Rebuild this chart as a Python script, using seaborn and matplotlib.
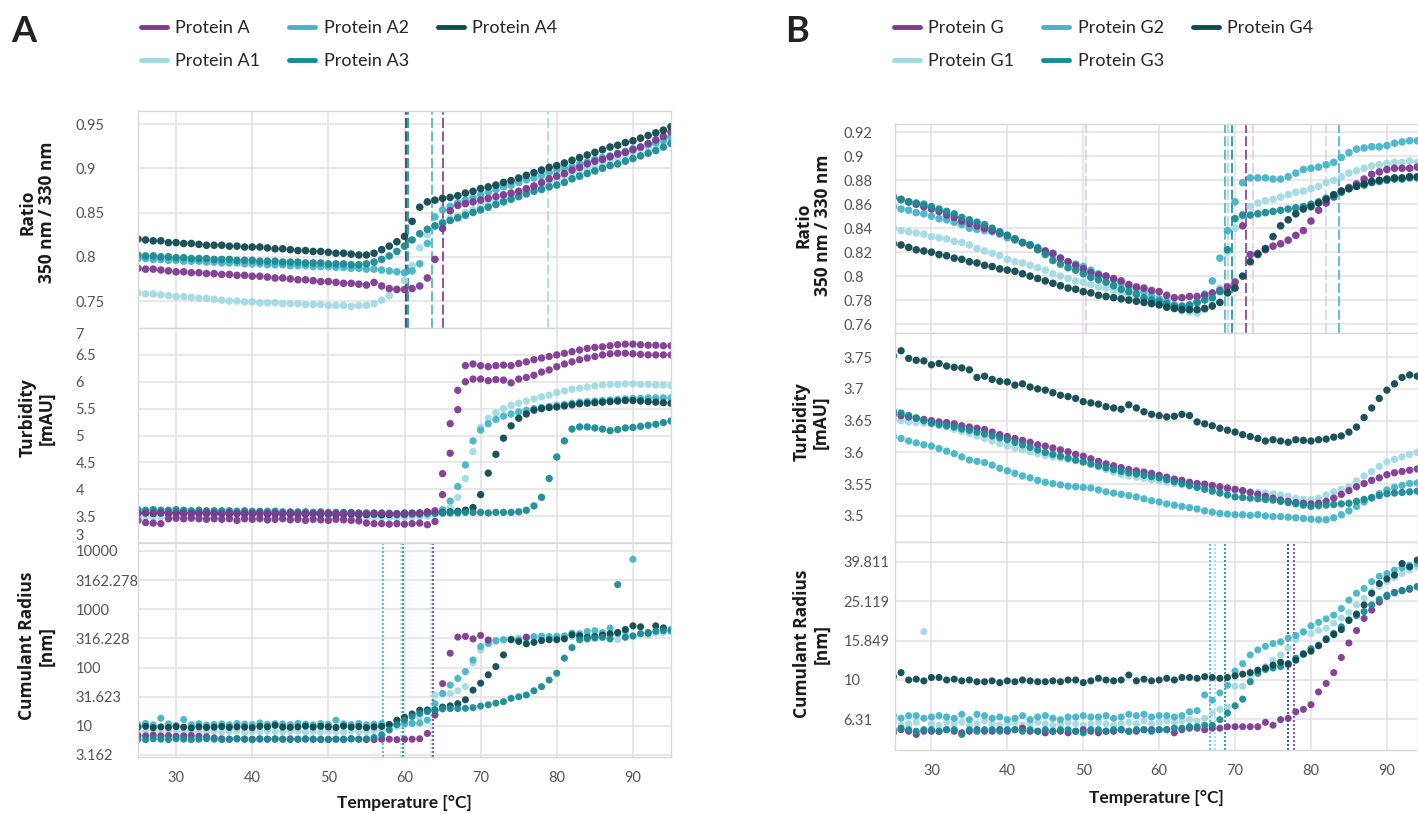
import matplotlib

matplotlib.use("Agg")

import matplotlib.pyplot as plt
import numpy as np
import pandas as pd
import seaborn as sns
from matplotlib.lines import Line2D
from matplotlib.ticker import NullLocator

NAN = np.nan

TEMPS = [25, 26, 27, 28, 29, 30, 31, 32, 33, 34,
         35, 36, 37, 38, 39, 40, 41, 42, 43, 44,
         45, 46, 47, 48, 49, 50, 51, 52, 53, 54,
         55, 56, 57, 58, 59, 60, 61, 62, 63, 64,
         65, 66, 67, 68, 69, 70, 71, 72, 73, 74,
         75, 76, 77, 78, 79, 80, 81, 82, 83, 84,
         85, 86, 87, 88, 89, 90, 91, 92, 93, 94,
         95]
X_TICKS = [30, 40, 50, 60, 70, 80, 90]

NAMES_A = ["Protein A", "Protein A1", "Protein A2", "Protein A3", "Protein A4"]
NAMES_G = ["Protein G", "Protein G1", "Protein G2", "Protein G3", "Protein G4"]
COLORS = ["#7e3a8f", "#a2dae1", "#45b4c6", "#1b8a94", "#10494f"]

# ---- panel A: ratio 350/330
RATIO_A = [.787, .786, .786, .785, .784, .783, .783, .782, .782, .781,
           .781, .780, .780, .779, .779, .778, .778, .777, .776, .776,
           .775, .774, .774, .773, .772, .772, .771, .770, .770, .769,
           .768, .771, .767, .764, .763, .763, .764, .767, .776, .797,
           .832, .852, .858, .860, .862, .864, .866, .868, .870, .872,
           .874, .877, .880, .884, .888, .891, .894, .898, .901, .905,
           .908, .910, .913, .916, .918, .921, .924, .928, .932, .936,
           .941]
RATIO_A1 = [.759, .758, .758, .757, .756, .755, .755, .754, .753, .753,
            .752, .751, .750, .750, .749, .749, .748, .748, .748, .747,
            .747, .747, .746, .746, .746, .745, .745, .745, .744, .745,
            .745, .747, .751, .756, .763, .773, .790, .810, .825, .834,
            .839, .843, .846, .850, .853, .857, .860, .863, .866, .869,
            .872, .875, .878, .881, .885, .888, .891, .894, .897, .900,
            .903, .906, .909, .912, .915, .918, .921, .924, .927, .931,
            .935]
RATIO_A2 = [.798, .798, .797, .797, .796, .796, .795, .795, .795, .794,
            .794, .793, .793, .793, .792, .792, .792, .791, .791, .791,
            .790, .790, .790, .789, .789, .789, .788, .788, .787, .787,
            .786, .786, .785, .784, .783, .782, .784, .792, .815, .845,
            .853, .857, .861, .864, .867, .870, .873, .876, .879, .881,
            .884, .887, .889, .892, .895, .898, .900, .902, .905, .907,
            .910, .912, .914, .917, .919, .922, .924, .927, .929, .932,
            .935]
RATIO_A3 = [.802, .801, .801, .800, .800, .799, .799, .798, .798, .798,
            .797, .797, .797, .796, .796, .796, .795, .795, .795, .794,
            .794, .794, .793, .793, .793, .792, .792, .792, .791, .791,
            .792, .794, .797, .801, .806, .812, .819, .826, .831, .835,
            .838, .841, .844, .847, .850, .853, .856, .859, .862, .865,
            .868, .871, .874, .876, .879, .881, .884, .888, .891, .894,
            .897, .900, .903, .905, .908, .911, .914, .917, .920, .924,
            .928]
RATIO_A4 = [.820, .819, .818, .818, .816, .816, .815, .815, .814, .813,
            .813, .813, .812, .812, .811, .811, .811, .810, .809, .809,
            .808, .807, .807, .806, .806, .805, .804, .804, .803, .802,
            .802, .804, .808, .812, .817, .823, .840, .856, .862, .864,
            .866, .867, .869, .872, .874, .877, .879, .881, .884, .886,
            .889, .892, .895, .898, .901, .903, .906, .909, .912, .915,
            .918, .921, .924, .926, .929, .931, .934, .937, .940, .943,
            .947]

# ---- panel A: turbidity (Protein A shows two replicates)
TURB_A = [3.55, 3.56, 3.55, 3.56, 3.55, 3.55, 3.56, 3.55, 3.55, 3.56,
          3.55, 3.55, 3.56, 3.55, 3.55, 3.55, 3.56, 3.55, 3.55, 3.55,
          3.56, 3.55, 3.55, 3.55, 3.56, 3.55, 3.55, 3.55, 3.56, 3.55,
          3.55, 3.55, 3.55, 3.55, 3.54, 3.55, 3.55, 3.56, 3.58, 3.60,
          4.29, 5.22, 5.84, 6.30, 6.33, 6.30, 6.28, 6.30, 6.31, 6.30,
          6.34, 6.37, 6.41, 6.44, 6.47, 6.50, 6.53, 6.56, 6.59, 6.62,
          6.64, 6.65, 6.67, 6.69, 6.70, 6.70, 6.69, 6.68, 6.68, 6.67,
          6.67]
TURB_A_REP = [3.42, 3.38, 3.37, 3.36, 3.45, 3.46, 3.45, 3.46, 3.45, 3.44,
              3.45, 3.44, 3.45, 3.42, 3.45, 3.44, 3.45, 3.43, 3.44, 3.45,
              3.43, 3.44, 3.42, 3.44, 3.43, 3.42, 3.44, 3.43, 3.42, 3.41,
              3.37, 3.36, 3.36, 3.35, 3.36, 3.35, 3.36, 3.37, 3.34, 3.40,
              3.90, 4.67, 5.48, 6.00, 6.05, 6.05, 6.02, 6.04, 6.03, 5.98,
              6.05, 6.08, 6.12, 6.18, 6.22, 6.28, 6.33, 6.37, 6.41, 6.44,
              6.47, 6.50, 6.52, 6.53, 6.53, 6.52, 6.51, 6.50, 6.50, 6.50,
              6.50]
TURB_A1 = [3.48, 3.49, 3.48, 3.48, 3.49, 3.48, 3.48, 3.49, 3.48, 3.48,
           3.48, 3.49, 3.48, 3.48, 3.48, 3.49, 3.48, 3.48, 3.48, 3.49,
           3.48, 3.48, 3.49, 3.48, 3.48, 3.48, 3.49, 3.48, 3.48, 3.48,
           3.47, 3.48, 3.47, 3.48, 3.47, 3.48, 3.48, 3.49, 3.50, 3.52,
           3.55, 3.65, 3.85, 4.20, 4.70, 5.15, 5.32, 5.42, 5.50, 5.56,
           5.60, 5.64, 5.68, 5.72, 5.75, 5.80, 5.83, 5.86, 5.88, 5.90,
           5.92, 5.94, 5.95, 5.95, 5.96, 5.96, 5.95, 5.95, 5.94, 5.94,
           5.93]
TURB_A2 = [3.58, 3.57, 3.58, 3.57, 3.58, 3.57, 3.57, 3.58, 3.57, 3.57,
           3.56, 3.57, 3.56, 3.56, 3.57, 3.56, 3.56, 3.55, 3.56, 3.55,
           3.55, 3.55, 3.54, 3.55, 3.54, 3.54, 3.54, 3.53, 3.54, 3.53,
           3.53, 3.53, 3.52, 3.53, 3.52, 3.52, 3.53, 3.53, 3.54, 3.56,
           3.62, 3.78, 4.05, 4.45, 4.90, 5.10, 5.22, 5.30, 5.36, 5.40,
           5.44, 5.47, 5.50, 5.52, 5.54, 5.56, 5.58, 5.60, 5.62, 5.63,
           5.64, 5.65, 5.66, 5.67, 5.68, 5.69, 5.69, 5.70, 5.70, 5.70,
           5.70]
TURB_A3 = [3.62, 3.61, 3.62, 3.61, 3.61, 3.62, 3.61, 3.60, 3.61, 3.60,
           3.60, 3.60, 3.60, 3.59, 3.60, 3.59, 3.59, 3.59, 3.59, 3.58,
           3.58, 3.58, 3.58, 3.57, 3.58, 3.57, 3.57, 3.57, 3.57, 3.56,
           3.56, 3.56, 3.56, 3.55, 3.55, 3.56, 3.56, 3.56, 3.56, 3.56,
           3.56, 3.56, 3.56, 3.57, 3.57, 3.57, 3.56, 3.57, 3.57, 3.57,
           3.58, 3.61, 3.69, 3.85, 4.20, 4.60, 4.90, 5.12, 5.16, 5.16,
           5.14, 5.12, 5.09, 5.11, 5.14, 5.15, 5.17, 5.19, 5.21, 5.24,
           5.27]
TURB_A4 = [3.56, 3.56, 3.55, 3.56, 3.55, 3.56, 3.55, 3.55, 3.56, 3.55,
           3.55, 3.55, 3.54, 3.55, 3.55, 3.54, 3.55, 3.54, 3.54, 3.55,
           3.54, 3.54, 3.54, 3.55, 3.54, 3.54, 3.53, 3.54, 3.54, 3.53,
           3.53, 3.54, 3.53, 3.53, 3.54, 3.54, 3.55, 3.55, 3.56, 3.56,
           3.57, 3.58, 3.59, 3.61, 3.66, 3.90, 4.30, 4.65, 4.95, 5.18,
           5.32, 5.40, 5.47, 5.50, 5.52, 5.53, 5.55, 5.57, 5.59, 5.60,
           5.61, 5.62, 5.63, 5.64, 5.65, 5.65, 5.64, 5.63, 5.62, 5.61,
           5.60]

# ---- panel A: cumulant radius [nm]
RAD_A = [6.8, 6.7, 6.9, 6.7, 6.8, 6.6, 6.7, 6.8, 6.6, 6.5,
         6.2, 6.0, 5.9, 6.0, 5.9, 5.9, 6.0, 5.9, 5.9, 5.9,
         6.0, 5.9, 5.9, 5.9, 5.9, 5.8, 5.9, 5.9, 6.0, 5.9,
         5.8, 5.8, 5.9, 5.9, 5.8, 5.9, 5.9, 6.0, 7.4, 15.3,
         53, 176, 333, 342, 310, 356, 298, NAN, NAN, NAN,
         NAN, 333, NAN, NAN, NAN, NAN, NAN, NAN, NAN, NAN,
         NAN, NAN, NAN, NAN, NAN, NAN, NAN, NAN, NAN, NAN,
         NAN]
RAD_A1 = [8.0, 7.8, 8.2, 7.9, 8.1, 8.0, 7.7, 8.1, 7.9, 8.0,
          8.1, 7.9, 8.0, 8.2, 7.8, 8.0, 7.9, 8.1, 8.0, 7.9,
          8.0, 8.1, 7.9, 8.0, 7.8, 8.1, 8.0, 7.9, 8.2, 7.9,
          8.0, 8.3, 8.6, 9.2, 9.8, 10.5, 11.2, 14, 19, 33.7,
          35, 36, 40, 47, 120, 200, 260, 280, 300, 310,
          320, 330, 330, 340, 330, 350, 330, 340, 350, 340,
          350, 330, 360, 300, 350, 340, 380, 360, 390, 400,
          420]
RAD_A2 = [10.5, 11.0, 10.4, 13.5, 10.8, 10.2, 12.8, 10.5, 10.9, 10.3,
          10.6, 10.8, 10.4, 11.0, 10.7, 10.5, 11.2, 10.6, 10.9, 10.8,
          10.5, 11.0, 10.7, 10.4, 10.9, 10.6, 12.5, 10.8, 10.5, 11.0,
          10.4, 10.7, 10.9, 10.6, 10.8, 10.9, 11.0, 11.2, 12.5, 24,
          36, 50, 65, 85, 135, 230, 260, 290, 300, 305,
          300, 320, 340, 345, 340, 340, 350, 390, 380, 415,
          430, 400, 475, 380, 420, 7200, NAN, NAN, NAN, NAN,
          420]
RAD_A3 = [5.9, 5.8, 6.0, 5.9, 5.8, 6.0, 5.9, 5.8, 5.9, 6.0,
          5.9, 5.8, 5.9, 6.0, 5.9, 5.8, 5.9, 5.9, 6.0, 5.9,
          5.8, 5.9, 6.0, 5.9, 5.8, 5.9, 5.9, 5.8, 6.0, 5.9,
          6.0, 6.3, 7.0, 8.5, 10.5, 12.5, 14.5, 16.3, 17.5, 18.6,
          19.5, 19.8, 19.8, 20, 20.5, 21.8, 23, 24.5, 26, 29.6,
          31.5, 33.8, 40, 47, 61, 80, 145, 220, 300, 310,
          320, 330, 310, 2650, 330, 350, 380, 400, 420, 430,
          445]
RAD_A4 = [9.5, 9.8, 9.3, 9.6, 9.4, 9.7, 9.5, 9.2, 9.6, 9.4,
          9.5, 9.7, 9.4, 9.6, 9.5, 9.3, 9.8, 9.6, 10.2, 9.5,
          9.4, 9.6, 9.9, 9.5, 9.8, 9.6, 9.4, 9.9, 9.5, 9.7,
          9.3, 9.6, 9.8, 10.5, 12.5, 14, 16, 18.6, 18.6, 18.6,
          21, 22, 24, 28, 41, 54, 75, 104, 165, 300,
          280, 255, 270, 290, 300, 300, 310, 365, 350, 330,
          340, 360, 380, 400, 450, 520, 500, 390, 520, 480,
          NAN]

# ---- panel B: ratio 350/330
RATIO_G = [.866, .864, .862, .860, .858, .856, .854, .851, .849, .846,
           .844, .842, .840, .838, .836, .834, .831, .828, .826, .823,
           .821, .819, .815, .812, .809, .806, .803, .801, .800, .798,
           .796, .793, .791, .790, .788, .787, .784, .782, .782, .783,
           .783, .784, .786, .788, .791, .795, .842, .818, .819, .822,
           .825, .827, .830, .834, .838, .846, .855, .861, .866, .871,
           .874, .877, .881, .885, .887, .889, .890, .890, .890, .891,
           .891]
RATIO_G1 = [.840, .838, .837, .836, .835, .833, .832, .831, .829, .828,
            .826, .823, .821, .819, .817, .814, .812, .811, .809, .807,
            .805, .802, .800, .798, .796, .795, .793, .791, .790, .788,
            .786, .784, .782, .780, .778, .776, .775, .773, .771, .770,
            .769, .772, .779, .790, .820, .840, .850, .858, .861, .863,
            .864, .866, .868, .870, .871, .873, .875, .878, .880, .883,
            .886, .888, .890, .892, .893, .894, .895, .895, .896, .895,
            .895]
RATIO_G2 = [.858, .856, .855, .853, .852, .850, .848, .847, .845, .843,
            .840, .839, .838, .837, .835, .832, .830, .828, .826, .824,
            .821, .818, .815, .812, .810, .808, .805, .802, .800, .797,
            .794, .791, .789, .787, .784, .781, .779, .776, .774, .775,
            .778, .785, .796, .815, .838, .862, .878, .882, .882, .882,
            .881, .881, .883, .886, .889, .890, .891, .893, .895, .899,
            .903, .906, .907, .908, .908, .909, .911, .912, .913, .913,
            .914]
RATIO_G3 = [.866, .864, .862, .861, .860, .858, .856, .854, .852, .849,
            .847, .845, .843, .840, .837, .834, .831, .828, .826, .822,
            .818, .813, .810, .807, .805, .802, .799, .797, .795, .792,
            .789, .787, .785, .782, .780, .779, .777, .775, .775, .776,
            .778, .780, .782, .787, .822, .848, .851, .851, .852, .853,
            .854, .855, .856, .857, .858, .860, .862, .865, .867, .870,
            .873, .875, .876, .878, .879, .880, .881, .881, .882, .882,
            .883]
RATIO_G4 = [.827, .826, .824, .822, .821, .820, .818, .817, .815, .814,
            .812, .811, .809, .808, .806, .805, .804, .802, .800, .798,
            .796, .794, .792, .790, .789, .787, .786, .784, .783, .782,
            .781, .780, .779, .778, .777, .776, .774, .773, .772, .772,
            .772, .773, .775, .778, .786, .790, .800, .812, .818, .823,
            .833, .842, .847, .852, .856, .858, .861, .864, .868, .871,
            .873, .875, .877, .879, .880, .881, .882, .882, .883, .883,
            .884]

# ---- panel B: turbidity
TURB_G = [3.660, 3.658, 3.656, 3.654, 3.652, 3.650, 3.648, 3.647, 3.645, 3.642,
          3.640, 3.638, 3.636, 3.632, 3.628, 3.625, 3.622, 3.619, 3.616, 3.612,
          3.610, 3.607, 3.604, 3.601, 3.597, 3.594, 3.590, 3.586, 3.582, 3.579,
          3.576, 3.573, 3.571, 3.569, 3.567, 3.564, 3.561, 3.558, 3.556, 3.553,
          3.551, 3.550, 3.548, 3.546, 3.544, 3.542, 3.540, 3.537, 3.534, 3.531,
          3.528, 3.525, 3.523, 3.521, 3.520, 3.519, 3.520, 3.523, 3.528, 3.534,
          3.540, 3.546, 3.551, 3.556, 3.560, 3.565, 3.568, 3.570, 3.572, 3.574,
          3.575]
TURB_G1 = [3.652, 3.650, 3.648, 3.647, 3.646, 3.645, 3.642, 3.640, 3.636, 3.633,
           3.630, 3.626, 3.622, 3.618, 3.614, 3.610, 3.607, 3.604, 3.601, 3.598,
           3.595, 3.593, 3.591, 3.589, 3.587, 3.585, 3.581, 3.577, 3.573, 3.569,
           3.565, 3.563, 3.561, 3.559, 3.557, 3.555, 3.553, 3.551, 3.549, 3.547,
           3.545, 3.546, 3.543, 3.542, 3.541, 3.540, 3.539, 3.538, 3.537, 3.536,
           3.535, 3.533, 3.531, 3.528, 3.526, 3.525, 3.528, 3.533, 3.538, 3.542,
           3.546, 3.555, 3.563, 3.570, 3.578, 3.585, 3.589, 3.593, 3.597, 3.600,
           3.602]
TURB_G2 = [3.625, 3.622, 3.618, 3.615, 3.612, 3.610, 3.606, 3.602, 3.598, 3.593,
           3.588, 3.586, 3.584, 3.580, 3.575, 3.571, 3.567, 3.563, 3.560, 3.556,
           3.553, 3.551, 3.549, 3.547, 3.546, 3.545, 3.544, 3.541, 3.538, 3.536,
           3.534, 3.532, 3.530, 3.527, 3.524, 3.522, 3.519, 3.517, 3.515, 3.513,
           3.511, 3.508, 3.506, 3.504, 3.503, 3.502, 3.502, 3.501, 3.502, 3.500,
           3.499, 3.499, 3.498, 3.497, 3.496, 3.495, 3.494, 3.494, 3.497, 3.502,
           3.508, 3.515, 3.522, 3.528, 3.535, 3.541, 3.545, 3.548, 3.551, 3.552,
           3.553]
TURB_G3 = [3.665, 3.662, 3.658, 3.654, 3.650, 3.646, 3.644, 3.642, 3.640, 3.637,
           3.635, 3.632, 3.629, 3.626, 3.623, 3.620, 3.616, 3.612, 3.608, 3.604,
           3.600, 3.597, 3.594, 3.591, 3.588, 3.585, 3.582, 3.579, 3.576, 3.573,
           3.570, 3.568, 3.566, 3.564, 3.562, 3.560, 3.557, 3.554, 3.551, 3.548,
           3.545, 3.542, 3.539, 3.536, 3.533, 3.530, 3.529, 3.528, 3.527, 3.526,
           3.525, 3.523, 3.521, 3.519, 3.517, 3.515, 3.516, 3.517, 3.518, 3.519,
           3.520, 3.523, 3.526, 3.529, 3.532, 3.535, 3.536, 3.537, 3.538, 3.539,
           3.540]
TURB_G4 = [3.752, 3.760, 3.748, 3.745, 3.744, 3.738, 3.740, 3.736, 3.734, 3.733,
           3.730, 3.718, 3.720, 3.715, 3.712, 3.711, 3.706, 3.708, 3.703, 3.700,
           3.698, 3.694, 3.690, 3.688, 3.685, 3.680, 3.678, 3.676, 3.672, 3.670,
           3.668, 3.675, 3.670, 3.664, 3.660, 3.658, 3.656, 3.657, 3.660, 3.658,
           3.648, 3.645, 3.642, 3.638, 3.635, 3.632, 3.628, 3.625, 3.622, 3.618,
           3.620, 3.618, 3.616, 3.620, 3.619, 3.618, 3.620, 3.621, 3.624, 3.626,
           3.632, 3.640, 3.655, 3.670, 3.685, 3.698, 3.708, 3.718, 3.722, 3.720,
           3.718]

# ---- panel B: cumulant radius [nm]
RAD_G = [5.4, 5.6, 5.5, 5.3, 5.5, 5.5, 5.5, 5.6, 5.5, 5.4,
         5.5, 5.6, 5.5, 5.5, 5.6, 5.5, 5.6, 5.7, 5.5, 5.5,
         5.4, 5.5, 5.5, 5.4, 5.5, 5.6, 5.5, 5.4, 5.5, 5.5,
         5.6, 5.5, 5.5, 5.6, 5.6, 5.6, 5.6, 5.4, 5.6, 5.7,
         5.7, 5.6, 5.7, 5.7, 5.8, 5.8, 5.8, 5.8, 5.8, 6.1,
         5.9, 6.3, 6.4, 6.9, 7.1, 7.5, 8.7, 9.6, 10.9, 13.0,
         15.4, 17.8, 20.5, 22.6, 24.8, 26.5, 27.8, 28.3, 28.8, 29.7,
         30.0]
RAD_G1 = [6.1, 5.9, 6.0, 6.1, 17.6, 6.0, 5.9, 6.1, 6.0, 6.1,
          5.9, 6.0, 6.2, 6.0, 5.9, 6.0, 6.1, 5.9, 6.0, 6.1,
          6.0, 5.9, 6.0, 6.1, 6.0, 5.9, 6.0, 6.1, 6.0, 5.9,
          6.0, 6.1, 6.0, 6.2, 6.0, 6.1, 6.2, 6.1, 6.2, 6.3,
          6.2, 6.4, 6.8, 7.1, 7.3, 9.3, 9.3, 10.5, 11.2, 11.7,
          12.6, 13.4, 14.5, 16.0, 17.6, 17.2, 17.8, 18.3, 19.4, 20.6,
          22.0, 24.0, 25.9, 28.0, 29.8, 31.5, 33.0, 34.6, 36.0, 37.4,
          38.0]
RAD_G2 = [6.6, 6.4, 6.6, 6.6, 6.4, 6.5, 6.6, 6.5, 6.4, 6.7,
          6.3, 6.7, 6.6, 6.4, 6.5, 6.3, 6.4, 6.6, 6.3, 6.5,
          6.6, 6.4, 6.3, 6.5, 6.5, 6.6, 6.5, 6.5, 6.6, 6.4,
          6.5, 6.7, 6.6, 6.7, 6.5, 6.6, 6.6, 6.5, 6.6, 6.9,
          7.0, 8.4, 7.9, 8.6, 9.4, 11.1, 12.1, 13.4, 14.2, 14.8,
          15.3, 15.6, 16.3, 16.8, 17.5, 18.8, 19.6, 20.4, 21.3, 23.0,
          25.4, 27.5, 29.1, 31.5, 33.5, 34.6, 36.0, 37.0, 38.0, 38.9,
          39.5]
RAD_G3 = [5.6, 5.7, 5.6, 5.5, 5.6, 5.6, 5.5, 5.6, 5.6, 5.3,
          5.6, 5.5, 5.6, 5.6, 5.5, 5.6, 5.6, 5.5, 5.6, 5.5,
          5.6, 5.5, 5.6, 5.6, 5.5, 5.4, 5.6, 5.6, 5.5, 5.6,
          5.6, 5.5, 5.6, 5.6, 5.5, 5.6, 5.6, 5.7, 5.7, 5.8,
          5.8, 5.9, 5.9, 6.3, 6.8, 7.4, 8.0, 9.8, 10.8, 11.3,
          11.5, 11.7, 12.1, 12.9, 13.6, 14.4, 15.0, 16.2, 17.2, 18.6,
          20.2, 21.2, 22.2, 24.0, 25.6, 26.9, 27.6, 28.4, 29.1, 29.7,
          30.0]
RAD_G4 = [10.4, 10.9, 10.0, 10.1, 9.9, 10.3, 10.3, 10.0, 10.1, 9.9,
          10.0, 9.8, 9.8, 9.9, 9.7, 9.9, 9.8, 10.0, 9.9, 9.8,
          9.8, 9.9, 9.8, 10.0, 10.0, 9.7, 9.9, 10.2, 10.0, 9.9,
          10.0, 10.6, 9.9, 10.1, 9.9, 10.0, 10.2, 10.0, 10.3, 10.3,
          10.2, 10.4, 10.3, 10.2, 10.3, 10.5, 10.7, 10.9, 11.2, 11.5,
          11.9, 12.3, 12.0, 12.6, 13.5, 14.0, 14.9, 16.0, 17.0, 18.0,
          20.0, 21.6, 24.0, 27.5, 30.8, 32.5, 34.0, 38.9, 37.4, 40.5,
          41.0]

# transition markers drawn as vertical lines: (temperature, colour)
VLINES_RATIO_A = [(60.2, "#10494f"), (60.5, "#1b8a94"), (63.6, "#45b4c6"),
                  (65.0, "#7e3a8f"), (78.9, "#a2dae1")]
VLINES_RAD_A = [(57.2, "#45b4c6"), (59.5, "#a2dae1"), (59.8, "#1b8a94"),
                (63.5, "#a2dae1"), (63.8, "#7e3a8f")]
VLINES_RATIO_G = [(50.4, "#ddcbe0"), (68.7, "#45b4c6"), (69.1, "#a2dae1"),
                  (69.6, "#1b8a94"), (71.5, "#7e3a8f"), (72.3, "#ddcbe0"),
                  (82.0, "#ddcbe0"), (83.7, "#45b4c6")]
VLINES_RAD_G = [(66.7, "#45b4c6"), (67.4, "#a2dae1"), (68.7, "#1b8a94"),
                (77.0, "#10494f"), (77.7, "#7e3a8f")]

W, H = 1418, 814
TICK_FONT = ["Liberation Sans Narrow", "Lato", "DejaVu Sans"]
LABEL_FONT = ["Open Sans", "DejaVu Sans"]

sns.set_theme(style="whitegrid")
plt.rcParams["font.family"] = ["Lato", "DejaVu Sans"]


def box(left, top, right, bottom):
    return [left / W, 1 - bottom / H, (right - left) / W, (bottom - top) / H]


def scatter(ax, series, names, colors, size=24):
    frames = [pd.DataFrame({"temp": TEMPS, "value": vals, "protein": name})
              for name, vals in zip(names, series)]
    data = pd.concat(frames, ignore_index=True).dropna()
    sns.scatterplot(data=data, x="temp", y="value", hue="protein",
                    palette=dict(zip(names, colors)), s=size, linewidth=0,
                    alpha=0.95, legend=False, ax=ax)


def style(ax, xlim, ylim, yticks, ylabels, pad, log=False, bottom=False):
    if log:
        ax.set_yscale("log")
    ax.set_xlim(*xlim)
    ax.set_ylim(*ylim)
    ax.set_xticks(X_TICKS)
    ax.set_yticks(yticks)
    ax.yaxis.set_minor_locator(NullLocator())
    ax.set_yticklabels(ylabels)
    ax.tick_params(axis="both", length=0, labelsize=10.5, labelcolor="#555555")
    ax.tick_params(axis="y", pad=pad)
    ax.tick_params(axis="x", pad=10, labelbottom=bottom)
    for lab in ax.get_yticklabels():
        lab.set_ha("left")
        lab.set_family(TICK_FONT)
    for lab in ax.get_xticklabels():
        lab.set_family(TICK_FONT)
    ax.grid(True, color="#e1e1e1", lw=1.1)
    for sp in ax.spines.values():
        sp.set_color("#d8d8d8")
        sp.set_linewidth(1.0)
    ax.set_xlabel("")
    ax.set_ylabel("")


def vlines(ax, lines, dotted=False):
    ls = (0, (1.2, 1.2)) if dotted else (0, (6, 2))
    for x, c in lines:
        ax.axvline(x, color=c, lw=1.2, ls=ls, zorder=1)


fig = plt.figure(figsize=(W / 100, H / 100), dpi=100)

# ---------------- panel A
order_a = [1, 2, 3, 0, 4]
ax1 = fig.add_axes(box(138, 111, 671, 328))
vlines(ax1, VLINES_RATIO_A)
ratio_a = [RATIO_A, RATIO_A1, RATIO_A2, RATIO_A3, RATIO_A4]
scatter(ax1, [ratio_a[i] for i in order_a], [NAMES_A[i] for i in order_a],
        [COLORS[i] for i in order_a], size=30)
style(ax1, (25, 95), (0.7195, 0.9647), [0.75, 0.8, 0.85, 0.9, 0.95],
      ["0.75", "0.8", "0.85", "0.9", "0.95"], 45)

ax2 = fig.add_axes(box(138, 328, 671, 543))
turb_names = ["Protein A1", "Protein A2", "Protein A4", "Protein A3", "Protein A", "Protein A rep"]
scatter(ax2, [TURB_A1, TURB_A2, TURB_A4, TURB_A3, TURB_A, TURB_A_REP], turb_names,
        [COLORS[1], COLORS[2], COLORS[4], COLORS[3], COLORS[0], COLORS[0]], size=28)
style(ax2, (25, 95), (3, 7), [3, 3.5, 4, 4.5, 5, 5.5, 6, 6.5, 7],
      ["3", "3.5", "4", "4.5", "5", "5.5", "6", "6.5", "7"], 45)
ax2.get_yticklabels()[-1].set_va("top")
ax2.get_yticklabels()[0].set_va("bottom")

ax3 = fig.add_axes(box(138, 543, 671, 757))
vlines(ax3, VLINES_RAD_A, dotted=True)
rad_a = [RAD_A, RAD_A1, RAD_A2, RAD_A3, RAD_A4]
scatter(ax3, [rad_a[i] for i in [1, 2, 0, 4, 3]], [NAMES_A[i] for i in [1, 2, 0, 4, 3]],
        [COLORS[i] for i in [1, 2, 0, 4, 3]], size=26)
style(ax3, (25, 95), (2.92, 13700),
      [3.162, 10, 31.623, 100, 316.228, 1000, 3162.278, 10000],
      ["3.162", "10", "31.623", "100", "316.228", "1000", "3162.278", "10000"],
      45, log=True, bottom=True)

# ---------------- panel B
bx1 = fig.add_axes(box(895, 124, 1418, 333))
vlines(bx1, VLINES_RATIO_G)
ratio_g = [RATIO_G, RATIO_G1, RATIO_G2, RATIO_G3, RATIO_G4]
order_g = [1, 2, 0, 3, 4]
scatter(bx1, [ratio_g[i] for i in order_g], [NAMES_G[i] for i in order_g],
        [COLORS[i] for i in order_g], size=30)
style(bx1, (25.2, 94.1), (0.7525, 0.927),
      [0.76, 0.78, 0.80, 0.82, 0.84, 0.86, 0.88, 0.90, 0.92],
      ["0.76", "0.78", "0.8", "0.82", "0.84", "0.86", "0.88", "0.9", "0.92"], 37)

bx2 = fig.add_axes(box(895, 333, 1418, 542))
turb_g = [TURB_G, TURB_G1, TURB_G2, TURB_G3, TURB_G4]
scatter(bx2, [turb_g[i] for i in [2, 1, 0, 3, 4]], [NAMES_G[i] for i in [2, 1, 0, 3, 4]],
        [COLORS[i] for i in [2, 1, 0, 3, 4]], size=28)
style(bx2, (25.2, 94.1), (3.459, 3.788), [3.5, 3.55, 3.6, 3.65, 3.7, 3.75],
      ["3.5", "3.55", "3.6", "3.65", "3.7", "3.75"], 37)

bx3 = fig.add_axes(box(895, 542, 1418, 750))
vlines(bx3, VLINES_RAD_G, dotted=True)
rad_g = [RAD_G, RAD_G1, RAD_G2, RAD_G3, RAD_G4]
scatter(bx3, [rad_g[i] for i in [1, 2, 0, 3, 4]], [NAMES_G[i] for i in [1, 2, 0, 3, 4]],
        [COLORS[i] for i in [1, 2, 0, 3, 4]], size=26)
style(bx3, (25.2, 94.1), (4.42, 50), [6.31, 10, 15.849, 25.119, 39.811],
      ["6.31", "10", "15.849", "25.119", "39.811"], 37, log=True, bottom=True)

# ---------------- labels
ylab = dict(rotation=90, ha="center", va="center", multialignment="center",
            fontsize=12.5, fontweight="bold", family=LABEL_FONT, color="#1a1a1a",
            linespacing=1.1)
for x, y, txt in [(37, 212, "Ratio\n350 nm / 330 nm"), (37, 418, "Turbidity\n[mAU]"),
                  (37, 646, "Cumulant Radius\n[nm]"),
                  (813, 225, "Ratio\n350 nm / 330 nm"), (811, 422, "Turbidity\n[mAU]"),
                  (812, 644, "Cumulant Radius\n[nm]")]:
    fig.text(x / W, 1 - y / H, txt, **ylab)

for x, y in [(404, 803), (1156, 798)]:
    fig.text(x / W, 1 - y / H, "Temperature [°C]", ha="center", va="center",
             fontsize=12.5, fontweight="bold", family=TICK_FONT, color="#1a1a1a")

for x, txt in [(24, "A"), (797, "B")]:
    fig.text(x / W, 1 - 31 / H, txt, ha="center", va="center", fontsize=26,
             fontweight="bold", family=TICK_FONT, color="#222222")

for x, names in [(141, NAMES_A), (894, NAMES_G)]:
    handles = [Line2D([], [], color=c, lw=3.5) for c in COLORS]
    fig.legend(handles, names, ncol=3, loc="upper left",
               bbox_to_anchor=(x / W, 1 - 20 / H), frameon=False,
               prop={"family": ["Lato", "DejaVu Sans"], "size": 13},
               handlelength=1.45, handletextpad=0.45, columnspacing=1.6,
               labelspacing=0.95, borderpad=0, borderaxespad=0)

fig.savefig("out.png", dpi=100)
